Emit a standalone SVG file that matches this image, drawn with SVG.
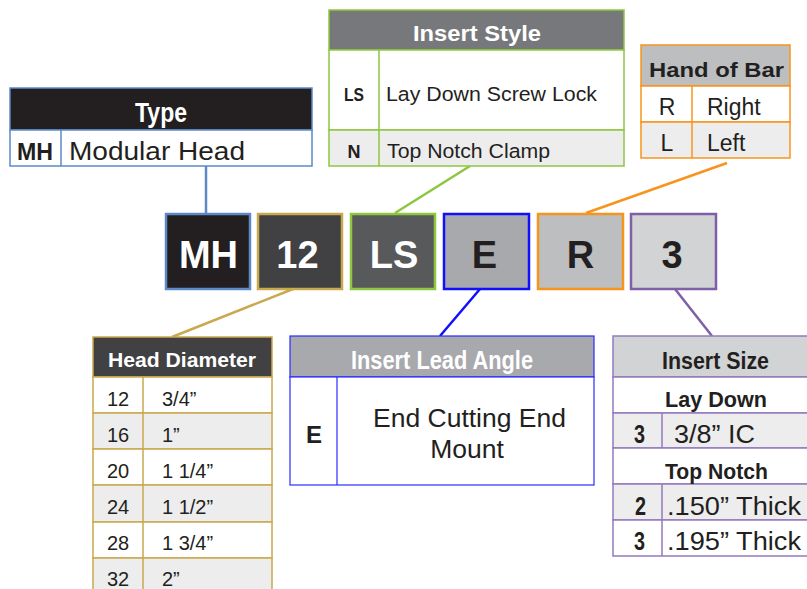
<svg xmlns="http://www.w3.org/2000/svg" width="807" height="589" viewBox="0 0 807 589">
<style>
text{font-family:"Liberation Sans",Arial,sans-serif;fill:#231f20}
.b{font-weight:bold}
.w{fill:#fff}
.big{font-size:38px;font-weight:bold;text-anchor:middle}
.c{text-anchor:middle}
.gold{stroke:#c9a94e;stroke-width:1.5}
.purp{stroke:#9579bd;stroke-width:1.5}
</style>
<rect width="807" height="589" fill="#fff"/>
<g id="connectors" fill="none" stroke-width="2.5">
<line x1="206" y1="166" x2="206" y2="213" stroke="#5b8ac6"/>
<line x1="395" y1="213" x2="470" y2="166" stroke="#8dc63f"/>
<line x1="586" y1="213" x2="727" y2="163" stroke="#f7941d"/>
<line x1="293" y1="289" x2="172" y2="337" stroke="#c9a94e"/>
<line x1="480" y1="289" x2="440" y2="336" stroke="#1010ff"/>
<line x1="675" y1="289" x2="712" y2="336" stroke="#7f5fa8"/>
</g>
<g id="code-boxes" stroke-width="2.5">
<g id="box-MH"><rect x="166" y="214" width="84" height="75" fill="#231f20" stroke="#5b8ac6"/><text class="big w" x="208.5" y="268">MH</text></g>
<g id="box-12"><rect x="258" y="214" width="84" height="75" fill="#414042" stroke="#c9a94e"/><text class="big w" x="297.5" y="268">12</text></g>
<g id="box-LS"><rect x="351" y="214" width="84" height="75" fill="#58595b" stroke="#8dc63f"/><text class="big w" x="394" y="268">LS</text></g>
<g id="box-E"><rect x="444" y="214" width="85" height="75" fill="#a7a9ac" stroke="#1010ff"/><text class="big" x="484.5" y="268">E</text></g>
<g id="box-R"><rect x="538" y="214" width="85" height="75" fill="#bcbec0" stroke="#f7941d"/><text class="big" x="580.5" y="268">R</text></g>
<g id="box-3"><rect x="631" y="214" width="85" height="75" fill="#d1d3d4" stroke="#7f5fa8"/><text class="big" x="672" y="268">3</text></g>
</g>
<g id="type-table">
<rect x="10" y="88" width="302" height="42" fill="#231f20" stroke="#5b8ac6" stroke-width="1.5"/>
<rect x="10" y="130" width="302" height="36" fill="#fff" stroke="#5b8ac6" stroke-width="1.5"/>
<line x1="61" y1="130" x2="61" y2="166" stroke="#5b8ac6" stroke-width="1.5"/>
<text class="b w" x="135" y="122" font-size="27" textLength="52" lengthAdjust="spacingAndGlyphs">Type</text>
<text class="b" x="17" y="160" font-size="24" textLength="36" lengthAdjust="spacingAndGlyphs">MH</text>
<text x="69" y="160" font-size="26" textLength="176" lengthAdjust="spacingAndGlyphs">Modular Head</text>
</g>
<g id="insert-style-table" stroke="#8dc63f" stroke-width="1.5">
<rect x="329" y="10" width="295" height="40" fill="#77787b"/>
<rect x="329" y="50" width="295" height="80" fill="#fff"/>
<rect x="329" y="130" width="295" height="36" fill="#ededed"/>
<line x1="379" y1="50" x2="379" y2="166"/>
<text class="b w" x="413" y="41" font-size="22.5" stroke="none" textLength="128" lengthAdjust="spacingAndGlyphs">Insert Style</text>
<text class="b" x="344" y="101" font-size="19" stroke="none" textLength="20" lengthAdjust="spacingAndGlyphs">LS</text>
<text x="386" y="101" font-size="20.5" stroke="none" textLength="211" lengthAdjust="spacingAndGlyphs">Lay Down Screw Lock</text>
<text class="b c" x="354" y="158" font-size="18" stroke="none">N</text>
<text x="387" y="158" font-size="20.5" stroke="none" textLength="163" lengthAdjust="spacingAndGlyphs">Top Notch Clamp</text>
</g>
<g id="hand-of-bar-table" stroke="#f7941d" stroke-width="1.5">
<rect x="641" y="45" width="149" height="41" fill="#bcbec0"/>
<rect x="641" y="86" width="149" height="36" fill="#fff"/>
<rect x="641" y="122" width="149" height="36" fill="#ededed"/>
<line x1="692" y1="86" x2="692" y2="158"/>
<text class="b" x="649" y="77" font-size="21" stroke="none" textLength="135" lengthAdjust="spacingAndGlyphs">Hand of Bar</text>
<text class="c" x="667" y="115" font-size="23" stroke="none">R</text>
<text x="707" y="115" font-size="23" stroke="none">Right</text>
<text class="c" x="667" y="151" font-size="23" stroke="none">L</text>
<text x="707" y="151" font-size="23" stroke="none">Left</text>
</g>
<g id="head-diameter-table">
<rect x="93" y="337" width="179" height="40" fill="#414042" class="gold"/>
<rect x="93" y="377" width="179" height="36" fill="#fff" class="gold"/>
<rect x="93" y="413" width="179" height="36" fill="#ededed" class="gold"/>
<rect x="93" y="449" width="179" height="36" fill="#fff" class="gold"/>
<rect x="93" y="485" width="179" height="37" fill="#ededed" class="gold"/>
<rect x="93" y="522" width="179" height="36" fill="#fff" class="gold"/>
<rect x="93" y="558" width="179" height="40" fill="#ededed" class="gold"/>
<line x1="143" y1="377" x2="143" y2="598" class="gold"/>
<text class="b w" x="108" y="367" font-size="20" textLength="148" lengthAdjust="spacingAndGlyphs">Head Diameter</text>
<text x="107" y="406" font-size="20">12</text><text x="162" y="406" font-size="20">3/4”</text>
<text x="107" y="442" font-size="20">16</text><text x="162" y="442" font-size="20">1”</text>
<text x="107" y="478" font-size="20">20</text><text x="162" y="478" font-size="20">1 1/4”</text>
<text x="107" y="514" font-size="20">24</text><text x="162" y="514" font-size="20">1 1/2”</text>
<text x="107" y="550" font-size="20">28</text><text x="162" y="550" font-size="20">1 3/4”</text>
<text x="107" y="586" font-size="20">32</text><text x="162" y="586" font-size="20">2”</text>
</g>
<g id="insert-lead-angle-table" stroke="#2a2aff" stroke-width="1.2">
<rect x="290" y="336" width="304" height="41" fill="#a7a9ac"/>
<rect x="290" y="377" width="304" height="108" fill="#fff"/>
<line x1="337" y1="377" x2="337" y2="485"/>
<text class="b w" x="351" y="369" font-size="25" stroke="none" textLength="182" lengthAdjust="spacingAndGlyphs">Insert Lead Angle</text>
<text class="b c" x="314" y="443" font-size="24" stroke="none">E</text>
<text x="373" y="427" font-size="26.5" stroke="none" textLength="193" lengthAdjust="spacingAndGlyphs">End Cutting End</text>
<text class="c" x="467" y="458" font-size="26.5" stroke="none">Mount</text>
</g>
<g id="insert-size-table">
<rect x="613" y="336" width="210" height="41" fill="#d1d3d4" class="purp"/>
<rect x="613" y="377" width="210" height="36" fill="#fff" class="purp"/>
<rect x="613" y="413" width="210" height="35" fill="#ededed" class="purp"/>
<rect x="613" y="448" width="210" height="36" fill="#fff" class="purp"/>
<rect x="613" y="484" width="210" height="36" fill="#ededed" class="purp"/>
<rect x="613" y="520" width="210" height="36" fill="#fff" class="purp"/>
<line x1="662" y1="413" x2="662" y2="448" class="purp"/>
<line x1="662" y1="484" x2="662" y2="556" class="purp"/>
<text class="b" x="662" y="369" font-size="23" textLength="107" lengthAdjust="spacingAndGlyphs">Insert Size</text>
<text class="b" x="665" y="407" font-size="22" textLength="102" lengthAdjust="spacingAndGlyphs">Lay Down</text>
<text class="b" x="634" y="443" font-size="26" textLength="11" lengthAdjust="spacingAndGlyphs">3</text>
<text x="674" y="443" font-size="25" textLength="81" lengthAdjust="spacingAndGlyphs">3/8” IC</text>
<text class="b" x="665" y="479" font-size="22" textLength="103" lengthAdjust="spacingAndGlyphs">Top Notch</text>
<text class="b" x="635" y="515" font-size="26" textLength="11" lengthAdjust="spacingAndGlyphs">2</text>
<text x="667" y="515" font-size="26" textLength="134" lengthAdjust="spacingAndGlyphs">.150” Thick</text>
<text class="b" x="634" y="550" font-size="26" textLength="11" lengthAdjust="spacingAndGlyphs">3</text>
<text x="667" y="550" font-size="26" textLength="134" lengthAdjust="spacingAndGlyphs">.195” Thick</text>
</g>
</svg>
